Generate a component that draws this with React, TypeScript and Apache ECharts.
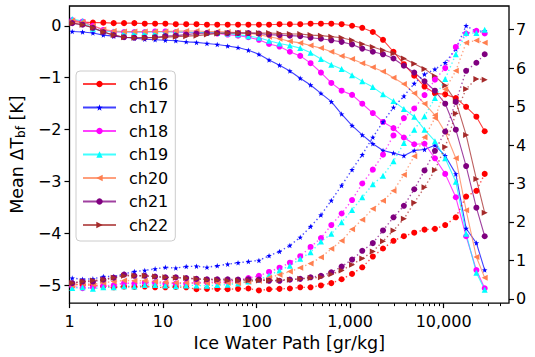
import React, { useEffect, useRef } from 'react';
import * as echarts from 'echarts';

const xs = [1.07, 1.38, 1.78, 2.3, 2.97, 3.83, 4.94, 6.38, 8.23, 10.6, 13.7, 17.7, 22.8, 29.5, 38.0, 49.1, 63.4, 81.8, 106, 136, 176, 227, 293, 378, 488, 630, 812, 1050, 1350, 1750, 2250, 2910, 3760, 4850, 6250, 8070, 10400, 13500, 17400, 22400, 27500];

const channels = ['ch16', 'ch17', 'ch18', 'ch19', 'ch20', 'ch21', 'ch22'];

const mean16 = [0.08, 0.07, 0.06, 0.06, 0.05, 0.05, 0.05, 0.04, 0.04, 0.04, 0.03, 0.03, 0.03, 0.02, 0.02, 0.02, 0.02, 0.02, 0.02, 0.02, 0.03, 0.03, 0.03, 0.04, 0.04, 0.04, 0.03, 0.0, -0.04, -0.12, -0.27, -0.5, -0.74, -0.96, -1.17, -1.3, -1.32, -1.39, -1.56, -1.75, -2.03];
const mean17 = [-0.11, -0.12, -0.14, -0.18, -0.2, -0.22, -0.24, -0.26, -0.27, -0.28, -0.29, -0.31, -0.32, -0.34, -0.36, -0.39, -0.42, -0.47, -0.55, -0.66, -0.76, -0.87, -1.01, -1.14, -1.3, -1.46, -1.7, -1.92, -2.1, -2.27, -2.4, -2.45, -2.5, -2.4, -2.38, -2.3, -2.5, -2.85, -3.9, -4.18, -4.7];
const mean18 = [0.11, 0.08, 0.0, -0.08, -0.12, -0.12, -0.12, -0.12, -0.11, -0.11, -0.12, -0.13, -0.13, -0.14, -0.15, -0.17, -0.19, -0.22, -0.27, -0.35, -0.4, -0.5, -0.58, -0.72, -0.9, -1.1, -1.25, -1.33, -1.5, -1.68, -1.85, -1.97, -2.15, -2.28, -2.27, -2.55, -2.85, -3.3, -4.05, -4.7, -5.05];
const mean19 = [0.13, 0.09, -0.06, -0.1, -0.11, -0.12, -0.12, -0.12, -0.12, -0.12, -0.12, -0.12, -0.13, -0.13, -0.14, -0.15, -0.17, -0.2, -0.23, -0.29, -0.34, -0.38, -0.43, -0.52, -0.64, -0.75, -0.83, -0.95, -1.07, -1.18, -1.32, -1.45, -1.6, -1.75, -2.0, -2.22, -2.55, -3.0, -4.0, -4.75, -5.08];
const mean20 = [0.1, 0.07, 0.0, -0.07, -0.1, -0.11, -0.11, -0.11, -0.11, -0.11, -0.1, -0.1, -0.1, -0.11, -0.11, -0.12, -0.13, -0.15, -0.17, -0.21, -0.25, -0.3, -0.33, -0.38, -0.43, -0.5, -0.58, -0.64, -0.72, -0.8, -0.88, -1.0, -1.12, -1.3, -1.5, -1.72, -2.05, -2.55, -3.55, -4.45, -4.85];
const mean21 = [0.05, 0.02, -0.04, -0.12, -0.18, -0.22, -0.23, -0.23, -0.22, -0.2, -0.19, -0.17, -0.15, -0.14, -0.14, -0.14, -0.14, -0.14, -0.15, -0.17, -0.18, -0.19, -0.2, -0.23, -0.25, -0.28, -0.31, -0.36, -0.44, -0.5, -0.55, -0.63, -0.77, -0.9, -1.07, -1.25, -1.5, -2.0, -2.7, -3.5, -4.05];
const mean22 = [0.05, 0.02, -0.04, -0.12, -0.18, -0.22, -0.23, -0.23, -0.23, -0.22, -0.21, -0.2, -0.19, -0.17, -0.15, -0.14, -0.14, -0.14, -0.14, -0.14, -0.15, -0.16, -0.16, -0.18, -0.19, -0.21, -0.23, -0.28, -0.35, -0.41, -0.47, -0.53, -0.63, -0.73, -0.83, -0.97, -1.15, -1.45, -2.1, -2.95, -3.6];

const right16 = [0.38, 0.36, 0.36, 0.33, 0.3, 0.32, 0.31, 0.32, 0.3, 0.3, 0.31, 0.3, 0.25, 0.26, 0.26, 0.25, 0.26, 0.27, 0.22, 0.25, 0.26, 0.27, 0.3, 0.3, 0.35, 0.41, 0.51, 0.65, 0.82, 1.1, 1.31, 1.51, 1.63, 1.72, 1.8, 1.82, 1.92, 2.12, 2.66, 2.81, 3.25];
const right17 = [0.54, 0.51, 0.52, 0.58, 0.58, 0.65, 0.71, 0.74, 0.78, 0.82, 0.8, 0.84, 0.85, 0.82, 0.86, 0.9, 0.94, 0.97, 1.0, 1.12, 1.23, 1.39, 1.6, 1.88, 2.18, 2.56, 2.95, 3.36, 3.75, 4.2, 4.6, 4.98, 5.27, 5.6, 5.84, 5.97, 6.14, 6.5, 7.1, 6.95, 6.97];
const right18 = [0.33, 0.28, 0.3, 0.34, 0.35, 0.41, 0.4, 0.42, 0.42, 0.4, 0.4, 0.4, 0.42, 0.43, 0.44, 0.44, 0.48, 0.54, 0.6, 0.7, 0.81, 0.94, 1.11, 1.35, 1.58, 1.92, 2.22, 2.57, 3.0, 3.36, 3.75, 4.25, 4.7, 4.95, 5.3, 5.7, 6.0, 6.55, 6.9, 6.97, 6.9];
const right19 = [0.28, 0.3, 0.26, 0.3, 0.3, 0.33, 0.32, 0.36, 0.36, 0.35, 0.33, 0.35, 0.35, 0.34, 0.36, 0.37, 0.4, 0.45, 0.5, 0.61, 0.74, 0.86, 1.04, 1.21, 1.49, 1.69, 1.99, 2.31, 2.64, 2.98, 3.2, 3.58, 4.05, 4.4, 4.75, 5.22, 5.72, 6.36, 6.91, 6.91, 7.0];
const right20 = [0.35, 0.4, 0.38, 0.42, 0.45, 0.48, 0.47, 0.47, 0.45, 0.43, 0.42, 0.42, 0.41, 0.41, 0.42, 0.42, 0.41, 0.45, 0.47, 0.55, 0.63, 0.71, 0.81, 0.92, 1.08, 1.3, 1.51, 1.81, 2.06, 2.34, 2.55, 2.81, 3.23, 3.71, 4.2, 4.7, 5.45, 5.93, 6.66, 6.72, 6.66];
const right21 = [0.41, 0.45, 0.45, 0.5, 0.55, 0.63, 0.6, 0.6, 0.58, 0.56, 0.56, 0.54, 0.52, 0.51, 0.51, 0.51, 0.5, 0.51, 0.5, 0.47, 0.47, 0.5, 0.52, 0.56, 0.6, 0.69, 0.84, 1.02, 1.25, 1.45, 1.78, 2.12, 2.42, 2.85, 3.34, 3.85, 4.35, 5.12, 5.93, 6.14, 6.36];
const right22 = [0.41, 0.45, 0.48, 0.5, 0.55, 0.6, 0.6, 0.6, 0.58, 0.56, 0.55, 0.54, 0.52, 0.5, 0.49, 0.48, 0.48, 0.48, 0.48, 0.48, 0.49, 0.5, 0.52, 0.54, 0.56, 0.64, 0.74, 0.89, 1.05, 1.23, 1.5, 1.78, 2.08, 2.5, 2.9, 3.35, 3.95, 4.82, 5.46, 5.72, 5.7];

const meanSeries = [mean16, mean17, mean18, mean19, mean20, mean21, mean22];
const rightSeries = [right16, right17, right18, right19, right20, right21, right22];

const leftTicks = [-5, -4, -3, -2, -1, 0];
const rightTicks = [0, 1, 2, 3, 4, 5, 6, 7];
const xMajorTicks = [1, 10, 100, 1000, 10000];
const xMinorTicks = [2, 3, 4, 5, 6, 7, 8, 9, 20, 30, 40, 50, 60, 70, 80, 90, 200, 300, 400, 500, 600, 700, 800, 900, 2000, 3000, 4000, 5000, 6000, 7000, 8000, 9000, 20000, 30000, 40000];

const colors = ['#ff0000', '#0000ff', '#ff00ff', '#00ffff', '#ff7f50', '#800080', '#a52a2a'];
const STAR = 'path://M0,-10L2.35,-3.24L9.51,-3.09L3.8,1.24L5.88,8.09L0,4L-5.88,8.09L-3.8,1.24L-9.51,-3.09L-2.35,-3.24Z';
const symbols = ['circle', STAR, 'circle', 'triangle', 'triangle', 'circle', 'triangle'];
const symbolRotates = [0, 0, 0, 0, 90, 0, -90];
const symbolSizes = [6, 5.5, 6, 6, 6, 6, 6];

const FONT = 'DejaVu Sans';
const minus = (v: number) => (v < 0 ? '\u2212' + Math.abs(v) : String(v));

export default function App() {
  const ref = useRef<HTMLDivElement>(null);
  useEffect(() => {
    const chart = echarts.init(ref.current!, null, { renderer: 'svg' });
    const series: any[] = [];
    channels.forEach((ch, i) => {
      series.push({
        type: 'line', name: ch, xAxisIndex: 0, yAxisIndex: 0,
        data: xs.map((x, j) => [x, meanSeries[i][j]]),
        symbol: symbols[i], symbolSize: symbolSizes[i], symbolRotate: symbolRotates[i],
        showSymbol: true, clip: false,
        itemStyle: { color: colors[i], opacity: 1, borderWidth: 0 },
        lineStyle: { color: colors[i], width: 1.1, opacity: 0.75 },
        z: 2,
      });
    });
    channels.forEach((ch, i) => {
      series.push({
        type: 'line', name: ch + ' right', xAxisIndex: 0, yAxisIndex: 1,
        data: xs.map((x, j) => [x, rightSeries[i][j]]),
        symbol: symbols[i], symbolSize: symbolSizes[i], symbolRotate: symbolRotates[i],
        showSymbol: true, clip: false,
        itemStyle: { color: colors[i], opacity: 1, borderWidth: 0 },
        lineStyle: { color: colors[i], width: 1.4, opacity: 0.7, type: [1.4, 2.6] },
        z: 3,
      });
    });
    chart.setOption({
      animation: false,
      textStyle: { fontFamily: FONT },
      grid: { left: 67, right: 26, top: 6, bottom: 50, show: true, borderColor: '#000', borderWidth: 1.3, backgroundColor: 'transparent', containLabel: false },
      legend: {
        data: channels, orient: 'vertical', left: 76, top: 71,
        padding: [5, 7, 8, 6], itemWidth: 33, itemHeight: 8, itemGap: 7.5,
        backgroundColor: 'rgba(255,255,255,0.8)', borderColor: '#cccccc', borderWidth: 1, borderRadius: 4,
        selectedMode: false,
        textStyle: { fontFamily: FONT, fontSize: 16, color: '#000', lineHeight: 16, padding: [0, 0, 0, 8] },
      },
      xAxis: [
        {
          type: 'log', logBase: 10, min: 1, max: 50000, position: 'bottom',
          axisLine: { show: false, onZero: false },
          axisTick: { show: true, length: 5, customValues: xMajorTicks, lineStyle: { color: '#000', width: 1.2 } },
          axisLabel: { customValues: xMajorTicks, formatter: (v: number) => Number(v).toLocaleString('en-US'), fontSize: 16, color: '#000', margin: 10, fontFamily: FONT },
          splitLine: { show: false },
          name: 'Ice Water Path [gr/kg]', nameLocation: 'middle', nameGap: 30,
          nameTextStyle: { fontSize: 17.5, color: '#000', fontFamily: FONT },
        },
        {
          type: 'log', logBase: 10, min: 1, max: 50000, position: 'bottom',
          axisLine: { show: false, onZero: false },
          axisTick: { show: true, length: 3, customValues: xMinorTicks, lineStyle: { color: '#000', width: 1 } },
          axisLabel: { show: false },
          splitLine: { show: false },
        },
      ],
      yAxis: [
        {
          type: 'value', min: -5.336, max: 0.38, position: 'left',
          axisLine: { show: false, onZero: false },
          axisTick: { show: true, length: 5, customValues: leftTicks, lineStyle: { color: '#000', width: 1.2 } },
          axisLabel: { customValues: leftTicks, formatter: minus, fontSize: 16, color: '#000', margin: 8, fontFamily: FONT },
          splitLine: { show: false },
          name: '{a|Mean ΔT}{s|bf}{a| [K]}', nameLocation: 'middle', nameGap: 42, nameRotate: 90,
          nameTextStyle: {
            rich: {
              a: { fontSize: 17.5, color: '#000', fontFamily: FONT },
              s: { fontSize: 12, color: '#000', fontFamily: FONT, padding: [8, 0, 0, 0] },
            },
          },
        },
        {
          type: 'value', min: -0.11, max: 7.615, position: 'right',
          axisLine: { show: false, onZero: false },
          axisTick: { show: true, length: 5, customValues: rightTicks, lineStyle: { color: '#000', width: 1.2 } },
          axisLabel: { customValues: rightTicks, fontSize: 16, color: '#000', margin: 7, fontFamily: FONT },
          splitLine: { show: false },
        },
      ],
      series,
    });
    return () => chart.dispose();
  }, []);
  return <div ref={ref} style={{ position: 'absolute', left: 0, top: 0, width: 535, height: 357 }} />;
}
